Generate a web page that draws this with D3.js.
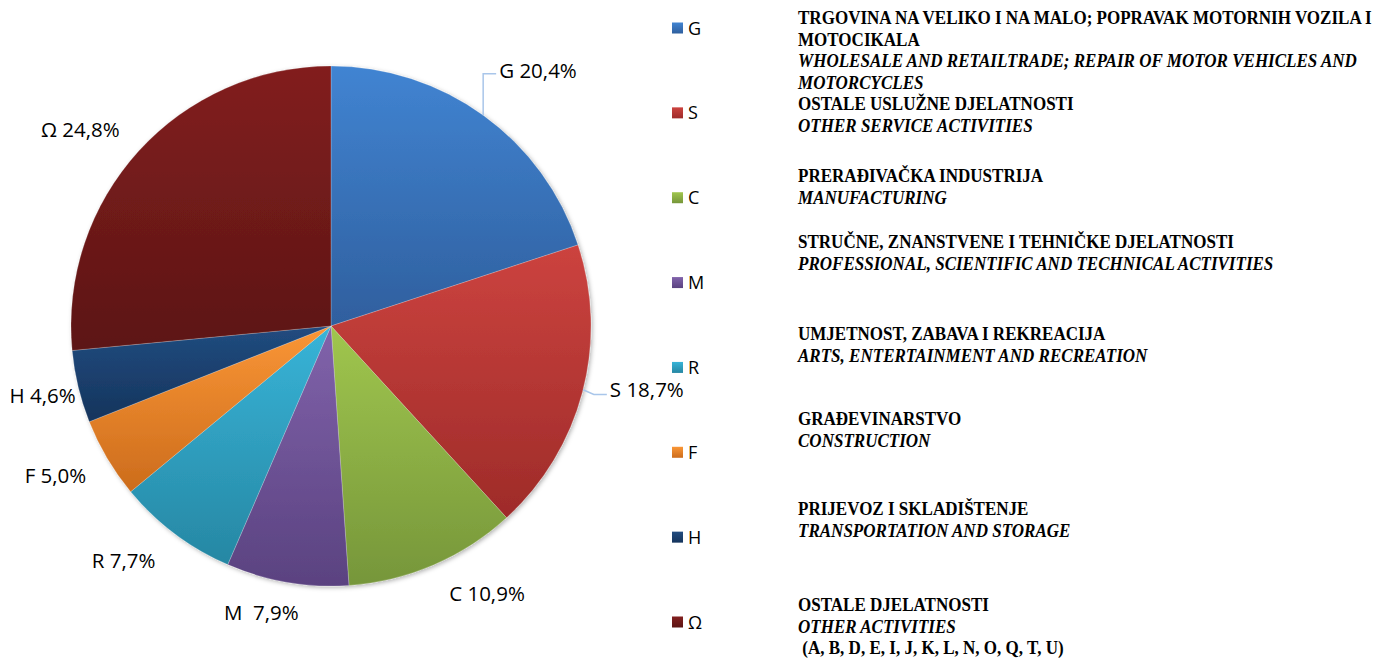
<!DOCTYPE html>
<html>
<head>
<meta charset="utf-8">
<script src="https://cdn.jsdelivr.net/npm/d3@7"></script>
<style>
  body { margin: 0; background: #fff; }
  svg { display: block; }
</style>
</head>
<body>
<div id="chart"></div>
<script>
// data (slice sizes as drawn in the picture; the printed labels are kept as text)
const codes = ['G', 'S', 'C', 'M', 'R', 'F', 'H', 'Ω']
const shares = [19.95, 18.25, 10.7, 7.6, 7.5, 5.0, 4.5, 26.5]
const pieLabels = ['G 20,4%', 'S 18,7%', 'C 10,9%', 'M  7,9%', 'R 7,7%', 'F 5,0%', 'H 4,6%', 'Ω 24,8%']
const namesHr = [
  ['TRGOVINA NA VELIKO I NA MALO; POPRAVAK MOTORNIH VOZILA I', 'MOTOCIKALA'],
  ['OSTALE USLUŽNE DJELATNOSTI'],
  ['PRERAĐIVAČKA INDUSTRIJA'],
  ['STRUČNE, ZNANSTVENE I TEHNIČKE DJELATNOSTI'],
  ['UMJETNOST, ZABAVA I REKREACIJA'],
  ['GRAĐEVINARSTVO'],
  ['PRIJEVOZ I SKLADIŠTENJE'],
  ['OSTALE DJELATNOSTI']
]
const namesEn = [
  ['WHOLESALE AND RETAILTRADE; REPAIR OF MOTOR VEHICLES AND', 'MOTORCYCLES'],
  ['OTHER SERVICE ACTIVITIES'],
  ['MANUFACTURING'],
  ['PROFESSIONAL, SCIENTIFIC AND TECHNICAL ACTIVITIES'],
  ['ARTS, ENTERTAINMENT AND RECREATION'],
  ['CONSTRUCTION'],
  ['TRANSPORTATION AND STORAGE'],
  ['OTHER ACTIVITIES']
]
const namesNote = [[], [], [], [], [], [], [], [' (A, B, D, E, I, J, K, L, N, O, Q, T, U)']]

// styles / layout
const colorTop = ['#4184d2', '#cc433f', '#a0c64e', '#8163ab', '#38b4d8', '#fa9636', '#214c80', '#821f1f']
const colorBottom = ['#2f5f9e', '#9e2b29', '#76963a', '#5a4280', '#2687a3', '#cc6c1c', '#15345c', '#5c1514']
const labelNudge = [[24, -3], [14, -15], [33, -19], [-17, -21], [-20, -15], [-7, -9], [15, -3], [-20, 14]]
const descTop = [24, 110, 182, 248, 340, 425, 515, 611]

const width = 1375
const height = 658
const cx = 331, cy = 326, radius = 260
const lineH = 21.7

const svg = d3.select('#chart').append('svg')
    .attr('width', width)
    .attr('height', height)

const defs = svg.append('defs')
codes.forEach((c, i) => {
  const g = defs.append('linearGradient')
      .attr('id', 'grad' + i)
      .attr('x1', 0).attr('y1', 0).attr('x2', 0).attr('y2', 1)
  g.append('stop').attr('offset', '0%').attr('stop-color', colorTop[i])
  g.append('stop').attr('offset', '100%').attr('stop-color', colorBottom[i])
})
const shadow = defs.append('filter').attr('id', 'shadow')
    .attr('x', '-10%').attr('y', '-10%').attr('width', '120%').attr('height', '120%')
shadow.append('feDropShadow')
    .attr('dx', 1.5).attr('dy', 1.5).attr('stdDeviation', 2)
    .attr('flood-color', '#000').attr('flood-opacity', 0.3)

const pieData = d3.pie().sort(null).value(d => d)(shares)

const arc = d3.arc().innerRadius(0).outerRadius(radius)
const labelArc = d3.arc().innerRadius(312).outerRadius(312)

const pieG = svg.append('g')
    .attr('transform', `translate(${cx},${cy})`)
    .attr('filter', 'url(#shadow)')

pieG.selectAll('path')
    .data(pieData)
    .enter()
    .append('path')
    .attr('d', arc)
    .attr('fill', (d, i) => `url(#grad${i})`)
    .attr('stroke', 'rgba(255,255,255,0.35)')
    .attr('stroke-width', 0.6)

// data labels
const labelG = svg.append('g').attr('transform', `translate(${cx},${cy})`)
const labels = labelG.selectAll('text')
    .data(pieData)
    .enter()
    .append('text')
    .attr('x', (d, i) => labelArc.centroid(d)[0] + labelNudge[i][0])
    .attr('y', (d, i) => labelArc.centroid(d)[1] + labelNudge[i][1])
    .attr('dy', '0.36em')
    .attr('text-anchor', 'middle')
    .style('font-family', '"Open Sans", sans-serif')
    .style('font-size', '20.5px')
    .style('fill', '#000')
    .style('white-space', 'pre')
    .attr('xml:space', 'preserve')
    .text((d, i) => pieLabels[i])

// leader lines for G and S
const leader = d3.line()
const boxG = labels.nodes()[0].getBBox()
const gx = boxG.x - 16
const gEdge = -Math.sqrt(radius * radius - gx * gx)
const gMid = boxG.y + boxG.height / 2 + 4
labelG.append('path')
    .attr('d', leader([[gx, gEdge], [gx, gMid], [boxG.x - 3, gMid]]))
    .attr('fill', 'none').attr('stroke', '#a9c6ea').attr('stroke-width', 1.5)

const boxS = labels.nodes()[1].getBBox()
const sMid = boxS.y + boxS.height / 2 + 5
const sAng = Math.atan2(sMid - 4, boxS.x - 24)
labelG.append('path')
    .attr('d', leader([[radius * Math.cos(sAng), radius * Math.sin(sAng)],
                       [boxS.x - 16, sMid], [boxS.x - 3, sMid]]))
    .attr('fill', 'none').attr('stroke', '#a9c6ea').attr('stroke-width', 1.5)

// legend
const legendY = d3.scalePoint().domain(codes).range([28, 622])
const legend = svg.append('g')
legend.selectAll('rect')
    .data(codes)
    .enter()
    .append('rect')
    .attr('x', 672)
    .attr('y', d => legendY(d) - 5.5)
    .attr('width', 11)
    .attr('height', 11)
    .attr('fill', (d, i) => `url(#grad${i})`)
legend.selectAll('text')
    .data(codes)
    .enter()
    .append('text')
    .attr('x', 688)
    .attr('y', d => legendY(d) + 6.5)
    .style('font-family', '"Open Sans", sans-serif')
    .style('font-size', '18px')
    .text(d => d)

// descriptions
const desc = svg.append('g')
const descFont = '"Liberation Serif", "Times New Roman", serif'
const descSize = '19.5px'
const probe = desc.append('text')
    .style('font-family', descFont).style('font-size', descSize).style('font-weight', 'bold')
    .text(namesHr[0][0])
const squeeze = 574 / probe.node().getComputedTextLength()
probe.remove()

codes.forEach((c, i) => {
  const rows = []
  namesHr[i].forEach(t => rows.push({ t: t, italic: false }))
  namesEn[i].forEach(t => rows.push({ t: t, italic: true }))
  namesNote[i].forEach(t => rows.push({ t: t, italic: false }))
  rows.forEach((r, k) => {
    desc.append('text')
        .attr('transform', `translate(798,${descTop[i] + k * lineH}) scale(${squeeze},1)`)
        .attr('xml:space', 'preserve')
        .style('font-family', descFont)
        .style('font-size', descSize)
        .style('font-weight', 'bold')
        .style('font-style', r.italic ? 'italic' : 'normal')
        .style('white-space', 'pre')
        .text(r.t)
  })
})
</script>
</body>
</html>
